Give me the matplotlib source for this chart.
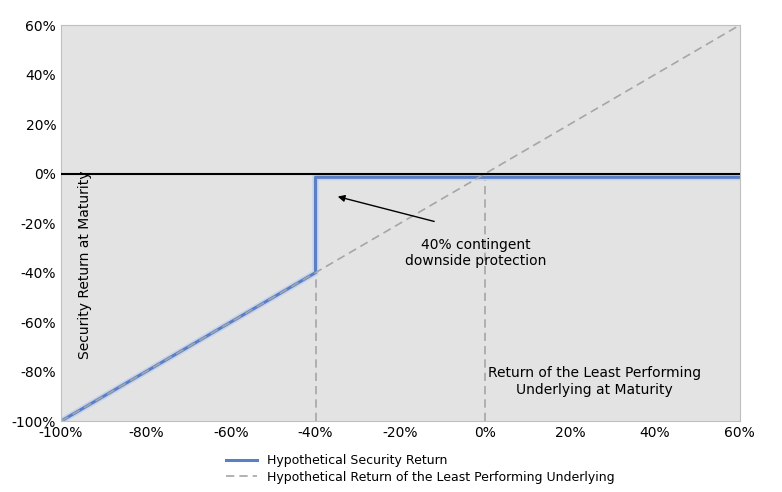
import matplotlib
matplotlib.use("Agg")
import matplotlib.pyplot as plt
import numpy as np

# underlying return (%) and security return (%)
security_x = [-100, -40, -40, 60]
security_y = [-100, -40, -1.5, -1.5]
underlying_x = [-100, 60]
underlying_y = [-100, 60]
barrier = -40
xticks = [-100, -80, -60, -40, -20, 0, 20, 40, 60]
yticks = [-100, -80, -60, -40, -20, 0, 20, 40, 60]

fig = plt.figure(figsize=(7.82, 4.92), dpi=100)
ax = fig.add_axes([0.078, 0.144, 0.868, 0.805])
ax.set_facecolor("#e3e3e3")

ax.plot([barrier, barrier], [-100, barrier], color="#a6a6a6", ls="--", lw=1.2, dashes=(5, 3))
ax.plot([0, 0], [-100, 0], color="#a6a6a6", ls="--", lw=1.2, dashes=(5, 3))
ax.plot(security_x, security_y, color="#c5d3ee", lw=4.5, solid_joinstyle="miter")
ax.plot(security_x, security_y, color="#5b7fc4", lw=2.2, label="Hypothetical Security Return")
ax.plot(underlying_x, underlying_y, color="#a6a6a6", ls="--", lw=1.2, dashes=(5, 3),
        label="Hypothetical Return of the Least Performing Underlying")
ax.axhline(0, color="black", lw=1.5, zorder=5)

ax.set_xlim(-100, 60)
ax.set_ylim(-100, 60)
ax.set_xticks(xticks)
ax.set_yticks(yticks)
ax.set_xticklabels([f"{v}%" for v in xticks], fontsize=10)
ax.set_yticklabels([f"{v}%" for v in yticks], fontsize=10)
ax.tick_params(length=0)
for s in ax.spines.values():
    s.set_color("#bfbfbf")

ax.annotate("", xy=(-35.4, -9), xytext=(-11.4, -19.6),
            arrowprops=dict(arrowstyle="-|>", color="black", lw=1))
ax.text(-2.2, -32, "40% contingent\ndownside protection", ha="center", va="center", fontsize=10)
ax.text(25.8, -84, "Return of the Least Performing\nUnderlying at Maturity", ha="center", va="center", fontsize=10)
ax.text(-94.3, -37, "Security Return at Maturity", rotation=90, ha="center", va="center", fontsize=10)

ax.legend(loc="upper left", bbox_to_anchor=(0.235, -0.07), frameon=False, fontsize=9,
          handlelength=2.5, labelspacing=0.3, borderaxespad=0)

fig.savefig("out.png", dpi=100)
